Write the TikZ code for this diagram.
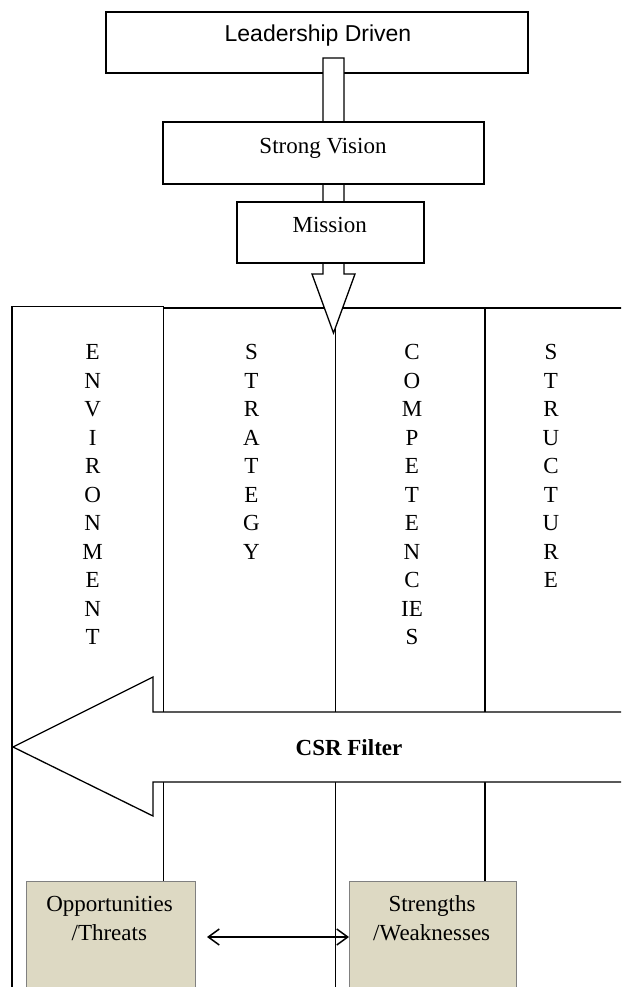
\documentclass[tikz,border=0pt]{standalone}
\usepackage{fontspec}
\setmainfont{Liberation Serif}
\newfontfamily\arialfont{Liberation Sans}
\usetikzlibrary{arrows.meta}

\definecolor{tanfill}{HTML}{DDD9C3}
\definecolor{tanedge}{HTML}{808080}

\begin{document}
\begin{tikzpicture}[x=1pt,y=-1pt,
  every node/.style={inner sep=0pt, outer sep=0pt, font=\fontsize{23}{28.5}\selectfont},
  framebox/.style={draw=black, line width=1.5pt, fill=white},
  panelline/.style={line width=1.3pt},
  blockarrow/.style={draw=black, line width=1.3pt, fill=white, line join=miter},
  swotbox/.style={draw=tanedge, line width=1pt, fill=tanfill, anchor=north west},
  letter/.style={anchor=base},
  label/.style={anchor=base},
  dblarrow/.style={line width=1.5pt, {Straight Barb[length=11pt,width=16pt]}-{Straight Barb[length=11pt,width=16pt]}},
]
\useasboundingbox (0,0) rectangle (621,987);
\clip (0,0) rectangle (621,987);

% panel: environment column and the three inner columns
\draw[panelline] (12,1000) -- (12,306.5) -- (163.5,306.5) -- (163.5,881);
\draw[panelline] (163.5,308) -- (640,308);
\draw[panelline] (335.5,308) -- (335.5,1000);
\draw[panelline] (485,308) -- (485,881);

% top chain
\node[framebox, minimum width=422pt, minimum height=61pt] (lead) at (317,42.5) {};
\draw[blockarrow] (323,58) -- (344,58) -- (344,274) -- (355,274) -- (333.5,333)
  -- (312,274) -- (323,274) -- cycle;
\node[framebox, minimum width=321pt, minimum height=62pt] (vision) at (323.5,153) {};
\node[framebox, minimum width=187pt, minimum height=61pt] (mission) at (330.5,232.5) {};

\node[label, font=\arialfont\fontsize{23}{28}\selectfont] (leadtxt) at (318,41.7) {Leadership Driven};
\node[label] (visiontxt) at (323,153.3) {Strong Vision};
\node[label] (missiontxt) at (329.7,232) {Mission};

% column headings, one letter per line
\foreach \ch [count=\i from 0] in {E,N,V,I,R,O,N,M,E,N,T}
  \node[letter] (env\i) at (92.7, 359.5+\i*28.5) {\ch};
\foreach \ch [count=\i from 0] in {S,T,R,A,T,E,G,Y}
  \node[letter] (str\i) at (251.5, 359.5+\i*28.5) {\ch};
\foreach \ch [count=\i from 0] in {C,O,M,P,E,T,E,N,C,IE,S}
  \node[letter] (comp\i) at (412, 359.5+\i*28.5) {\ch};
\foreach \ch [count=\i from 0] in {S,T,R,U,C,T,U,R,E}
  \node[letter] (stru\i) at (551, 359.5+\i*28.5) {\ch};

% CSR filter arrow
\draw[blockarrow] (640,712) -- (153,712) -- (153,677) -- (13,747) -- (153,816)
  -- (153,782) -- (640,782);
\node[label, font=\bfseries\fontsize{23}{28.5}\selectfont] (csr) at (349,755) {CSR Filter};

% bottom boxes
\node[swotbox, minimum width=169pt, minimum height=140pt] (ot) at (26,881) {};
\node[swotbox, minimum width=167pt, minimum height=140pt] (sw) at (349,881) {};
\node[label] (ot1) at (109.5,911.5) {Opportunities};
\node[label] (ot2) at (109.3,940) {/Threats};
\node[label] (sw1) at (432,911.5) {Strengths};
\node[label] (sw2) at (431.7,940) {/Weaknesses};

\coordinate (arrL) at (207,937);
\draw[dblarrow] (arrL) -- (sw.west |- arrL);
\end{tikzpicture}
\end{document}
